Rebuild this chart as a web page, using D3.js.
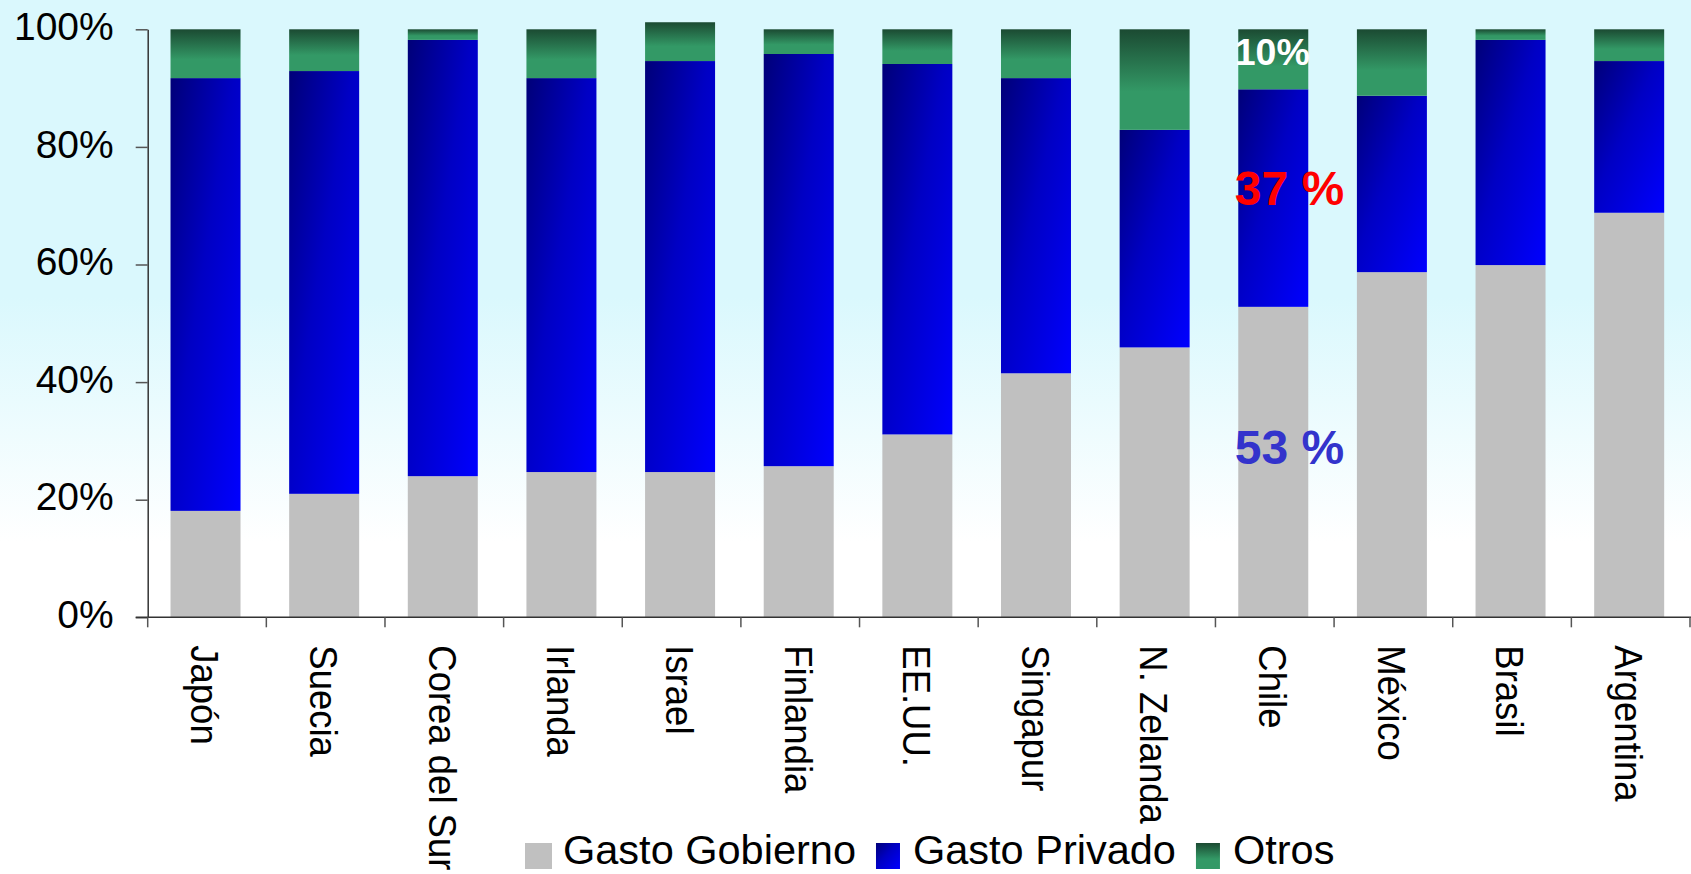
<!DOCTYPE html>
<html>
<head>
<meta charset="utf-8">
<script src="https://cdn.jsdelivr.net/npm/d3@7"></script>
<style>
  html, body { margin: 0; padding: 0; background: #ffffff; }
  svg { display: block; }
  text { font-family: "Liberation Sans", Arial, sans-serif; }
</style>
</head>
<body>
<svg id="chart" width="1691" height="874"></svg>
<script>
// ---- Data ----
const categories = ["Japón", "Suecia", "Corea del Sur", "Irlanda", "Israel", "Finlandia", "EE.UU.", "Singapur", "N. Zelanda", "Chile", "México", "Brasil", "Argentina"];
const gastoGobierno = [18.1, 21.0, 24.0, 24.7, 24.7, 25.7, 31.1, 41.5, 45.9, 52.8, 58.7, 59.9, 68.8];
const gastoPrivado  = [73.6, 71.9, 74.2, 67.0, 69.9, 70.1, 63.0, 50.2, 37.0, 37.0, 30.0, 38.3, 25.8];
const otros         = [ 8.3,  7.1,  1.8,  8.3,  6.6,  4.2,  5.9,  8.3, 17.1, 10.2, 11.3,  1.8,  5.4];
const seriesNames = ["Gasto Gobierno", "Gasto Privado", "Otros"];
const yTicks = [0, 20, 40, 60, 80, 100];
const annotCategory = "Chile";
const annotTexts = ["10%", "37 %", "53 %"];
const annotValues = [93.9, 70.1, 26.1];

// ---- Layout ----
const W = 1691, H = 874;
const margin = { left: 147.7, right: 1, top: 29.3, bottom: 874 - 617.3 };
const barShift = -1.5;
const svg = d3.select("#chart");
const defs = svg.append("defs");

// background gradient
const bg = defs.append("linearGradient").attr("id", "bgGrad")
  .attr("x1", 0).attr("y1", 0).attr("x2", 0).attr("y2", 1);
bg.append("stop").attr("offset", 0).attr("stop-color", "#daf8fd");
bg.append("stop").attr("offset", 0.34).attr("stop-color", "#daf8fd");
bg.append("stop").attr("offset", 0.62).attr("stop-color", "#ffffff");
bg.append("stop").attr("offset", 1).attr("stop-color", "#ffffff");
svg.append("rect").attr("width", W).attr("height", H).attr("fill", "url(#bgGrad)");

// bar gradients
const blueG = defs.append("linearGradient").attr("id", "blueGrad")
  .attr("x1", 0).attr("y1", 0).attr("x2", 1).attr("y2", 1);
blueG.append("stop").attr("offset", 0).attr("stop-color", "#000078");
blueG.append("stop").attr("offset", 0.45).attr("stop-color", "#0000c4");
blueG.append("stop").attr("offset", 1).attr("stop-color", "#0000ff");

const greenG = defs.append("linearGradient").attr("id", "greenGrad")
  .attr("x1", 0).attr("y1", 0).attr("x2", 0).attr("y2", 1);
greenG.append("stop").attr("offset", 0).attr("stop-color", "#1b4a32");
greenG.append("stop").attr("offset", 0.62).attr("stop-color", "#339966");
greenG.append("stop").attr("offset", 1).attr("stop-color", "#339966");

const fills = ["#c0c0c0", "url(#blueGrad)", "url(#greenGrad)"];

const x = d3.scaleBand().domain(categories)
  .range([margin.left, W - margin.right])
  .paddingInner(0.41).paddingOuter(0.205);
const y = d3.scaleLinear().domain([0, 100]).range([H - margin.bottom, margin.top]);

// stacked data
const rows = categories.map((c, i) => ({ cat: c, g: gastoGobierno[i], p: gastoPrivado[i], o: otros[i] }));
const stack = d3.stack().keys(["g", "p", "o"])(rows);

const barsG = svg.append("g");
stack.forEach((layer, li) => {
  barsG.append("g").selectAll("rect").data(layer).join("rect")
    .attr("x", d => x(d.data.cat) + barShift)
    .attr("width", x.bandwidth())
    .attr("y", d => y(d[1]))
    .attr("height", d => y(d[0]) - y(d[1]))
    .attr("fill", fills[li]);
});

// Y axis
const yAxis = d3.axisLeft(y).tickValues(yTicks).tickFormat(d => d + "%")
  .tickSize(12).tickSizeOuter(0).tickPadding(22);
const gy = svg.append("g").attr("transform", `translate(${margin.left},0)`).call(yAxis);
gy.select(".domain").attr("stroke", "#333").attr("stroke-width", 1.5);
gy.selectAll(".tick line").attr("stroke", "#555").attr("stroke-width", 1.5);
gy.selectAll(".tick text").attr("font-size", 39).attr("fill", "#000")
  .attr("font-family", "'Liberation Sans', Arial, sans-serif").attr("dy", "0.26em");

// X axis
const x0 = y(0);
const step = x.step();
const r0 = x.range()[0];
svg.append("line").attr("x1", margin.left - 12).attr("x2", W).attr("y1", x0).attr("y2", x0)
  .attr("stroke", "#333").attr("stroke-width", 1.5);
svg.append("g").selectAll("line").data(d3.range(categories.length + 1)).join("line")
  .attr("x1", i => r0 + i * step).attr("x2", i => r0 + i * step)
  .attr("y1", x0).attr("y2", x0 + 10)
  .attr("stroke", "#555").attr("stroke-width", 1.5);

svg.append("g").selectAll("text").data(categories).join("text")
  .attr("transform", d => `translate(${x(d) + x.bandwidth() / 2 + barShift},${x0 + 28}) rotate(90) scale(1,1.08)`)
  .attr("dy", "0.36em")
  .attr("text-anchor", "start")
  .attr("font-size", 36.5)
  .attr("fill", "#000")
  .text(d => d);

// Annotations on Chile
const annColors = ["#ffffff", "#ff0000", "#3333cc"];
const annSizes = [37.5, 48, 48];
svg.append("g").selectAll("text").data(annotTexts).join("text")
  .attr("x", x(annotCategory) - 5)
  .attr("y", (d, i) => y(annotValues[i]))
  .attr("font-size", (d, i) => annSizes[i])
  .attr("font-weight", "bold")
  .attr("fill", (d, i) => annColors[i])
  .text(d => d);

// Legend
const legend = svg.append("g").attr("transform", "translate(525,0)");
let lx = 0;
seriesNames.forEach((name, i) => {
  const g = legend.append("g").attr("transform", `translate(${lx},0)`);
  g.append("rect").attr("x", 0).attr("y", 843).attr("width", i === 0 ? 27 : 24).attr("height", 26)
    .attr("fill", fills[i]);
  const t = g.append("text").attr("x", i === 0 ? 38 : 37).attr("y", 864)
    .attr("font-size", 41.5).attr("fill", "#000").text(name);
  lx += (i === 0 ? 38 : 37) + t.node().getComputedTextLength() + 20;
});
</script>
</body>
</html>
